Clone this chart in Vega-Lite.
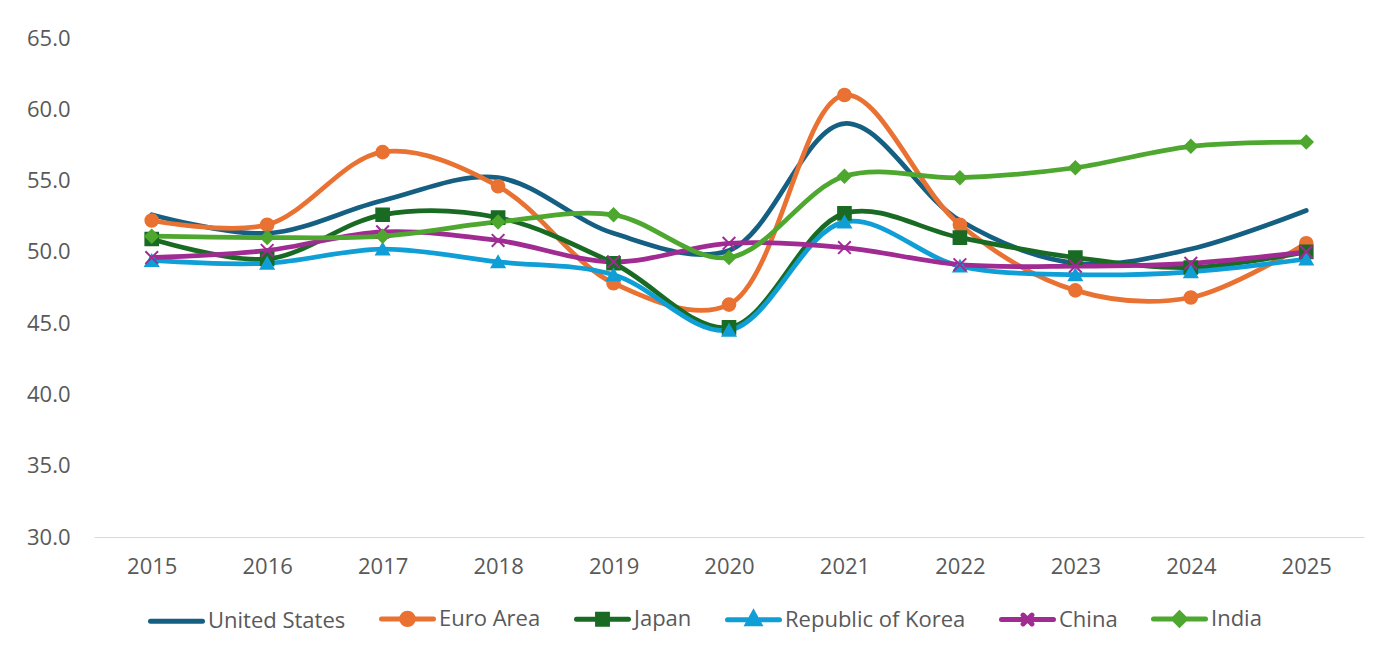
{
  "$schema": "https://vega.github.io/schema/vega-lite/v6.json",
  "autosize": "none",
  "width": 1270,
  "height": 499,
  "padding": {"left": 94, "top": 38, "right": 18, "bottom": 117},
  "background": "white",
  "config": {
    "view": {"stroke": null},
    "font": "Open Sans",
    "axis": {"labelFont": "Open Sans", "labelFontSize": 22, "labelColor": "#595959", "title": null, "grid": false, "ticks": false},
    "legend": {"labelFont": "Open Sans", "labelFontSize": 22, "labelColor": "#595959"}
  },
  "data": {"values": [
    {"year": "2015", "series": "United States", "value": 52.6},
    {"year": "2016", "series": "United States", "value": 51.3},
    {"year": "2017", "series": "United States", "value": 53.6},
    {"year": "2018", "series": "United States", "value": 55.2},
    {"year": "2019", "series": "United States", "value": 51.3},
    {"year": "2020", "series": "United States", "value": 50.1},
    {"year": "2021", "series": "United States", "value": 59.0},
    {"year": "2022", "series": "United States", "value": 52.2},
    {"year": "2023", "series": "United States", "value": 49.2},
    {"year": "2024", "series": "United States", "value": 50.2},
    {"year": "2025", "series": "United States", "value": 52.9},
    {"year": "2015", "series": "Euro Area", "value": 52.2},
    {"year": "2016", "series": "Euro Area", "value": 51.9},
    {"year": "2017", "series": "Euro Area", "value": 57.0},
    {"year": "2018", "series": "Euro Area", "value": 54.6},
    {"year": "2019", "series": "Euro Area", "value": 47.8},
    {"year": "2020", "series": "Euro Area", "value": 46.3},
    {"year": "2021", "series": "Euro Area", "value": 61.0},
    {"year": "2022", "series": "Euro Area", "value": 51.9},
    {"year": "2023", "series": "Euro Area", "value": 47.3},
    {"year": "2024", "series": "Euro Area", "value": 46.8},
    {"year": "2025", "series": "Euro Area", "value": 50.6},
    {"year": "2015", "series": "Japan", "value": 50.9},
    {"year": "2016", "series": "Japan", "value": 49.5},
    {"year": "2017", "series": "Japan", "value": 52.6},
    {"year": "2018", "series": "Japan", "value": 52.4},
    {"year": "2019", "series": "Japan", "value": 49.2},
    {"year": "2020", "series": "Japan", "value": 44.7},
    {"year": "2021", "series": "Japan", "value": 52.7},
    {"year": "2022", "series": "Japan", "value": 51.0},
    {"year": "2023", "series": "Japan", "value": 49.6},
    {"year": "2024", "series": "Japan", "value": 48.9},
    {"year": "2025", "series": "Japan", "value": 50.0},
    {"year": "2015", "series": "Republic of Korea", "value": 49.4},
    {"year": "2016", "series": "Republic of Korea", "value": 49.2},
    {"year": "2017", "series": "Republic of Korea", "value": 50.2},
    {"year": "2018", "series": "Republic of Korea", "value": 49.3},
    {"year": "2019", "series": "Republic of Korea", "value": 48.4},
    {"year": "2020", "series": "Republic of Korea", "value": 44.5},
    {"year": "2021", "series": "Republic of Korea", "value": 52.1},
    {"year": "2022", "series": "Republic of Korea", "value": 49.0},
    {"year": "2023", "series": "Republic of Korea", "value": 48.4},
    {"year": "2024", "series": "Republic of Korea", "value": 48.6},
    {"year": "2025", "series": "Republic of Korea", "value": 49.5},
    {"year": "2015", "series": "China", "value": 49.6},
    {"year": "2016", "series": "China", "value": 50.1},
    {"year": "2017", "series": "China", "value": 51.4},
    {"year": "2018", "series": "China", "value": 50.8},
    {"year": "2019", "series": "China", "value": 49.3},
    {"year": "2020", "series": "China", "value": 50.6},
    {"year": "2021", "series": "China", "value": 50.3},
    {"year": "2022", "series": "China", "value": 49.1},
    {"year": "2023", "series": "China", "value": 49.0},
    {"year": "2024", "series": "China", "value": 49.2},
    {"year": "2025", "series": "China", "value": 50.0},
    {"year": "2015", "series": "India", "value": 51.1},
    {"year": "2016", "series": "India", "value": 51.0},
    {"year": "2017", "series": "India", "value": 51.1},
    {"year": "2018", "series": "India", "value": 52.1},
    {"year": "2019", "series": "India", "value": 52.6},
    {"year": "2020", "series": "India", "value": 49.6},
    {"year": "2021", "series": "India", "value": 55.3},
    {"year": "2022", "series": "India", "value": 55.2},
    {"year": "2023", "series": "India", "value": 55.9},
    {"year": "2024", "series": "India", "value": 57.4},
    {"year": "2025", "series": "India", "value": 57.7}
  ]},
  "encoding": {
    "x": {
      "field": "year", "type": "ordinal",
      "scale": {"padding": 0.5},
      "axis": {"labelAngle": 0, "labelPadding": 19, "domainColor": "#d9d9d9", "domainWidth": 1.2}
    },
    "y": {
      "field": "value", "type": "quantitative",
      "scale": {"domain": [30, 65], "nice": false, "zero": false},
      "axis": {"values": [30, 35, 40, 45, 50, 55, 60, 65], "format": ".1f", "domain": false, "labelPadding": 24}
    }
  },
  "layer": [
    {
      "mark": {"type": "line", "interpolate": "catmull-rom", "strokeWidth": 4.75, "strokeCap": "round"},
      "encoding": {
        "color": {
          "field": "series", "type": "nominal",
          "scale": {
            "domain": ["United States", "Euro Area", "Japan", "Republic of Korea", "China", "India"],
            "range": ["#156082", "#E97132", "#196B24", "#0F9ED5", "#A02B93", "#4EA72E"]
          },
          "legend": {
            "orient": "none",
            "legendX": 54,
            "legendY": 552,
            "direction": "horizontal",
            "title": null,
            "labelLimit": 400,
            "symbolSize": 2704,
            "symbolStrokeWidth": 5,
            "symbolOffset": 0,
            "labelOffset": 3,
            "columnPadding": 25,
            "encode": {
              "symbols": {
                "update": {
                  "shape": {"signal": "datum.value==='United States'?'M-1,0H1':datum.value==='Euro Area'?'M-1,0H1M-0.22,0A0.22,0.22,0,1,0,0.22,0A0.22,0.22,0,1,0,-0.22,0Z':datum.value==='Japan'?'M-1,0H1M-0.19,-0.19H0.19V0.19H-0.19Z':datum.value==='Republic of Korea'?'M-1,0H1M0,-0.24L0.22,0.16H-0.22Z':datum.value==='China'?'M-1,0H1M-0.17,-0.17L0.17,0.17M-0.17,0.17L0.17,-0.17':'M-1,0H1M0,-0.22L0.22,0L0,0.22L-0.22,0Z'"},
                  "fill": {"signal": "scale('color', datum.value)"},
                  "stroke": {"signal": "scale('color', datum.value)"},
                  "strokeWidth": {"value": 5},
                  "strokeCap": {"value": "round"}
                }
              }
            }
          }
        }
      }
    },
    {
      "transform": [{"filter": "datum.series !== 'United States'"}],
      "mark": {"type": "point", "filled": true, "opacity": 1, "size": 160, "strokeWidth": 2},
      "encoding": {
        "fill": {
          "field": "series", "type": "nominal", "legend": null,
          "scale": {
            "domain": ["United States", "Euro Area", "Japan", "Republic of Korea", "China", "India"],
            "range": ["#156082", "#E97132", "#196B24", "#0F9ED5", "#A02B93", "#4EA72E"]
          }
        },
        "stroke": {
          "field": "series", "type": "nominal", "legend": null,
          "scale": {
            "domain": ["United States", "Euro Area", "Japan", "Republic of Korea", "China", "India"],
            "range": ["#156082", "#E97132", "#196B24", "#0F9ED5", "#A02B93", "#4EA72E"]
          }
        },
        "shape": {
          "field": "series", "type": "nominal", "legend": null,
          "scale": {
            "domain": ["Euro Area", "Japan", "Republic of Korea", "China", "India"],
            "range": ["circle", "square", "triangle-up", "M-1,-1L1,1M-1,1L1,-1", "diamond"]
          }
        }
      }
    }
  ]
}
